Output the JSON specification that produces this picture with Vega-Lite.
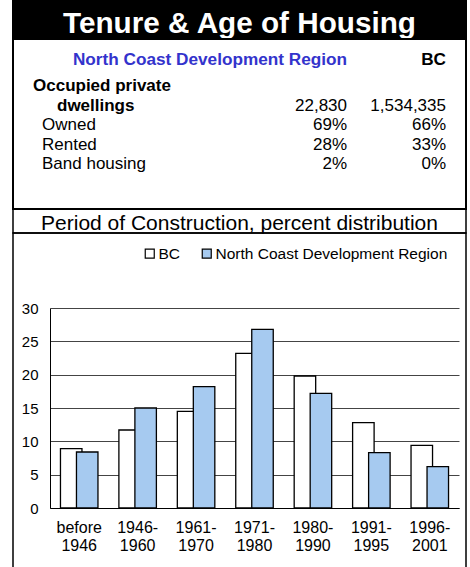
{
  "$schema": "https://vega.github.io/schema/vega-lite/v6.json",
  "padding": {"left": 12, "top": 0, "right": 0, "bottom": 0},
  "spacing": 0,
  "bounds": "flush",
  "config": {"font": "Liberation Sans", "view": {"stroke": null}, "concat": {"spacing": 0}},
  "datasets": {
    "table": [
      {"label": "", "nc": "North Coast Development Region", "bc": "BC"},
      {"label": "Occupied private", "nc": "", "bc": ""},
      {"label": "dwellings", "nc": "22,830", "bc": "1,534,335"},
      {"label": "Owned", "nc": "69%", "bc": "66%"},
      {"label": "Rented", "nc": "28%", "bc": "33%"},
      {"label": "Band housing", "nc": "2%", "bc": "0%"}
    ],
    "bars": [
      {"period": "before 1946", "series": "BC", "value": 8.9},
      {"period": "before 1946", "series": "North Coast Development Region", "value": 8.4},
      {"period": "1946-1960", "series": "BC", "value": 11.7},
      {"period": "1946-1960", "series": "North Coast Development Region", "value": 15.0},
      {"period": "1961-1970", "series": "BC", "value": 14.5},
      {"period": "1961-1970", "series": "North Coast Development Region", "value": 18.2},
      {"period": "1971-1980", "series": "BC", "value": 23.2},
      {"period": "1971-1980", "series": "North Coast Development Region", "value": 26.8},
      {"period": "1980-1990", "series": "BC", "value": 19.8},
      {"period": "1980-1990", "series": "North Coast Development Region", "value": 17.2},
      {"period": "1991-1995", "series": "BC", "value": 12.8},
      {"period": "1991-1995", "series": "North Coast Development Region", "value": 8.3},
      {"period": "1996-2001", "series": "BC", "value": 9.4},
      {"period": "1996-2001", "series": "North Coast Development Region", "value": 6.2}
    ]
  },
  "vconcat": [
    {
      "width": 453, "height": 38,
      "view": {"fill": "black", "stroke": "black", "strokeWidth": 2},
      "data": {"values": [{"title": "Tenure & Age of Housing"}]},
      "mark": {"type": "text", "fill": "white", "fontWeight": "bold", "fontSize": 29.7, "baseline": "alphabetic", "dy": 12.7},
      "encoding": {"text": {"field": "title"}}
    },
    {
      "width": 453, "height": 170,
      "view": {"stroke": "black", "strokeWidth": 2},
      "data": {"name": "table"},
      "encoding": {
        "y": {"field": "label", "type": "nominal", "scale": {"type": "point", "domain": ["", "Occupied private", "dwellings", "Owned", "Rented", "Band housing"], "range": [32.5, 130], "padding": 0}, "axis": null}
      },
      "layer": [
        {"transform": [{"filter": "datum.label == ''"}], "mark": {"type": "text", "align": "right", "baseline": "alphabetic", "fontSize": 17.2, "fontWeight": "bold", "fill": "#3333CC", "dy": -6.2}, "encoding": {"x": {"value": 334}, "text": {"field": "nc"}}},
        {"transform": [{"filter": "datum.label == ''"}], "mark": {"type": "text", "align": "right", "baseline": "alphabetic", "fontSize": 17.2, "fontWeight": "bold", "fill": "black", "dy": -6.2}, "encoding": {"x": {"value": 433}, "text": {"field": "bc"}}},
        {"transform": [{"filter": "datum.label == 'Occupied private'"}], "mark": {"type": "text", "align": "left", "baseline": "alphabetic", "fontSize": 17, "fontWeight": "bold", "fill": "black"}, "encoding": {"x": {"value": 20}, "text": {"field": "label"}}},
        {"transform": [{"filter": "datum.label == 'dwellings'"}], "mark": {"type": "text", "align": "left", "baseline": "alphabetic", "fontSize": 17, "fontWeight": "bold", "fill": "black"}, "encoding": {"x": {"value": 44}, "text": {"field": "label"}}},
        {"transform": [{"filter": "datum.label == 'Owned' || datum.label == 'Rented' || datum.label == 'Band housing'"}], "mark": {"type": "text", "align": "left", "baseline": "alphabetic", "fontSize": 17, "fill": "black"}, "encoding": {"x": {"value": 29}, "text": {"field": "label"}}},
        {"transform": [{"filter": "datum.label != ''"}], "mark": {"type": "text", "align": "right", "baseline": "alphabetic", "fontSize": 17, "fill": "black"}, "encoding": {"x": {"value": 334}, "text": {"field": "nc"}}},
        {"transform": [{"filter": "datum.label != ''"}], "mark": {"type": "text", "align": "right", "baseline": "alphabetic", "fontSize": 17, "fill": "black"}, "encoding": {"x": {"value": 433}, "text": {"field": "bc"}}}
      ]
    },
    {
      "width": 453, "height": 24,
      "view": {"stroke": "black", "strokeWidth": 1.5},
      "data": {"values": [{"t": "Period of Construction, percent distribution"}]},
      "mark": {"type": "text", "fontSize": 21, "baseline": "alphabetic", "dy": 9, "fill": "black"},
      "encoding": {"text": {"field": "t"}}
    },
    {
      "width": 453, "height": 345,
      "view": {"stroke": "black", "strokeWidth": 1.5},
      "data": {"name": "bars"},
      "encoding": {
        "x": {"field": "period", "type": "nominal", "sort": null,
          "scale": {"type": "band", "domain": ["before 1946", "1946-1960", "1961-1970", "1971-1980", "1980-1990", "1991-1995", "1996-2001"], "range": [37, 446], "paddingInner": 0, "paddingOuter": 0},
          "axis": {"title": null, "offset": -70, "domain": true, "domainColor": "black", "domainWidth": 1, "ticks": false, "tickSize": 0, "grid": false, "labelFontSize": 16, "labelColor": "black", "labelAngle": 0, "labelPadding": 24.4, "labelBaseline": "alphabetic", "labelLineHeight": 18.3, "labelExpr": "datum.label == 'before 1946' ? ['before', '1946'] : [slice(datum.label, 0, 5), slice(datum.label, 5)]"}},
        "y": {"field": "value", "type": "quantitative",
          "scale": {"domain": [0, 30], "range": [275, 75], "nice": false},
          "axis": {"title": null, "values": [0, 5, 10, 15, 20, 25, 30], "offset": -37, "domain": true, "domainColor": "black", "domainWidth": 1, "ticks": false, "tickSize": 0, "grid": true, "gridColor": "#444444", "gridWidth": 1, "labelFontSize": 15, "labelColor": "black", "labelPadding": 12}},
        "fill": {"field": "series", "type": "nominal",
          "scale": {"domain": ["BC", "North Coast Development Region"], "range": ["#FFFFFF", "#A6CAF0"]},
          "legend": {"title": null, "orient": "none", "legendX": 129, "legendY": 244.5, "direction": "horizontal", "padding": 0, "symbolType": "square", "symbolSize": 81, "symbolStrokeColor": "black", "symbolStrokeWidth": 1.2, "labelFontSize": 15.5, "labelColor": "black", "labelOffset": 1, "labelLimit": 0, "columnPadding": 18}}
      },
      "layer": [
        {"transform": [{"filter": "datum.series == 'BC'"}], "mark": {"type": "bar", "width": 21.5, "xOffset": -8, "stroke": "black", "strokeWidth": 1.3}},
        {"transform": [{"filter": "datum.series != 'BC'"}], "mark": {"type": "bar", "width": 21.5, "xOffset": 8, "stroke": "black", "strokeWidth": 1.3}}
      ]
    }
  ]
}
